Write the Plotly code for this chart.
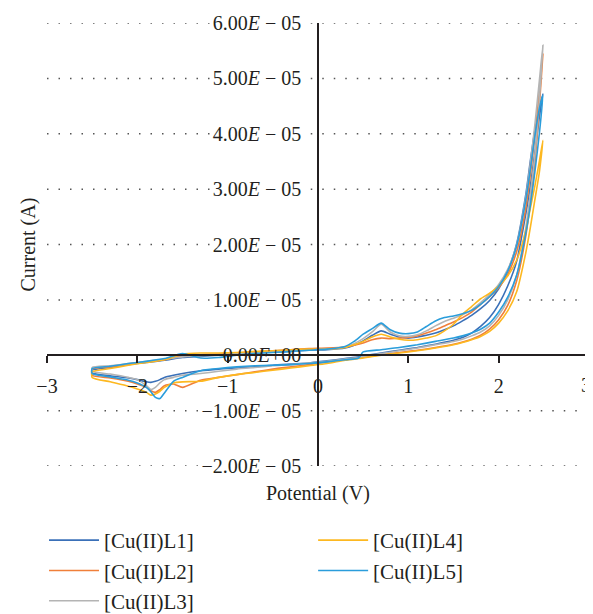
import plotly.graph_objects as go

SCALE = 1e-5  # currents below are given in units of 1e-5 A

names = ["[Cu(II)L1]", "[Cu(II)L2]", "[Cu(II)L3]", "[Cu(II)L4]", "[Cu(II)L5]"]
colors = ["#3a70b8", "#f07f3a", "#b4b4b4", "#fdb820", "#2a9ddb"]

# forward (upper) sweep potentials, V
v_fwd = [-2.5, -2.3, -2.1, -1.9, -1.7, -1.5, -1.3, -1.1, -0.9, -0.7,
         -0.5, -0.3, -0.1, 0.1, 0.3, 0.4, 0.5, 0.6, 0.7, 0.8,
         0.9, 1.0, 1.1, 1.2, 1.3, 1.4, 1.5, 1.6, 1.7, 1.8,
         1.9, 2.0, 2.1, 2.2, 2.3, 2.35, 2.4, 2.45, 2.49]
# reverse (lower) sweep potentials, V
v_rev = [2.45, 2.4, 2.35, 2.3, 2.2, 2.1, 2.0, 1.9, 1.8, 1.7,
         1.6, 1.5, 1.3, 1.1, 0.9, 0.7, 0.5, 0.45, 0.3, 0.1,
         -0.1, -0.3, -0.5, -0.7, -0.9, -1.1, -1.3, -1.5, -1.6, -1.7,
         -1.75, -1.8, -1.85, -1.9, -2.0, -2.1, -2.3, -2.5]

i_fwd_L1 = [-0.27, -0.22, -0.17, -0.13, -0.09, -0.04, -0.02, 0.00, 0.02, 0.04,
            0.06, 0.07, 0.09, 0.10, 0.13, 0.18, 0.26, 0.36, 0.44, 0.38,
            0.33, 0.31, 0.33, 0.36, 0.40, 0.46, 0.53, 0.62, 0.72, 0.84,
            0.99, 1.20, 1.52, 2.02, 2.90, 3.50, 4.05, 4.45, 4.72]
i_rev_L1 = [4.30, 3.65, 3.05, 2.55, 1.70, 1.25, 0.92, 0.68, 0.52, 0.40,
            0.32, 0.27, 0.20, 0.14, 0.09, 0.04, -0.01, -0.03, -0.06, -0.10,
            -0.14, -0.16, -0.18, -0.21, -0.23, -0.25, -0.28, -0.33, -0.36, -0.40,
            -0.44, -0.47, -0.49, -0.48, -0.44, -0.41, -0.37, -0.32]

i_fwd_L2 = [-0.25, -0.21, -0.16, -0.12, -0.08, -0.01, 0.01, 0.02, 0.04, 0.06,
            0.08, 0.10, 0.12, 0.13, 0.15, 0.18, 0.22, 0.28, 0.31, 0.30,
            0.31, 0.32, 0.35, 0.40, 0.46, 0.53, 0.60, 0.68, 0.78, 0.92,
            1.06, 1.22, 1.46, 1.88, 2.65, 3.25, 3.95, 4.75, 5.45]
i_rev_L2 = [4.50, 3.45, 2.75, 2.15, 1.35, 0.90, 0.64, 0.47, 0.36, 0.29,
            0.24, 0.20, 0.14, 0.09, 0.05, 0.01, -0.04, -0.05, -0.08, -0.12,
            -0.17, -0.21, -0.25, -0.30, -0.35, -0.40, -0.45, -0.58, -0.52, -0.55,
            -0.62, -0.67, -0.64, -0.58, -0.52, -0.47, -0.41, -0.36]

i_fwd_L3 = [-0.22, -0.19, -0.15, -0.11, -0.07, -0.03, -0.01, 0.01, 0.03, 0.05,
            0.07, 0.08, 0.10, 0.11, 0.15, 0.21, 0.30, 0.42, 0.56, 0.42,
            0.35, 0.34, 0.37, 0.44, 0.53, 0.61, 0.67, 0.73, 0.82, 0.95,
            1.10, 1.28, 1.55, 2.00, 2.85, 3.45, 4.15, 4.95, 5.60]
i_rev_L3 = [4.60, 3.60, 2.90, 2.30, 1.45, 1.00, 0.72, 0.53, 0.42, 0.35,
            0.29, 0.25, 0.19, 0.13, 0.08, 0.03, -0.02, -0.04, -0.07, -0.11,
            -0.14, -0.17, -0.19, -0.22, -0.25, -0.29, -0.33, -0.36, -0.40, -0.44,
            -0.50, -0.58, -0.62, -0.55, -0.44, -0.40, -0.34, -0.29]

i_fwd_L4 = [-0.30, -0.24, -0.18, -0.13, -0.08, 0.02, 0.04, 0.04, 0.05, 0.07,
            0.08, 0.10, 0.11, 0.11, 0.14, 0.19, 0.25, 0.33, 0.38, 0.33,
            0.29, 0.27, 0.28, 0.31, 0.35, 0.44, 0.56, 0.74, 0.88, 1.02,
            1.12, 1.25, 1.43, 1.72, 2.25, 2.65, 3.05, 3.50, 3.88]
i_rev_L4 = [3.30, 2.80, 2.30, 1.85, 1.15, 0.80, 0.58, 0.43, 0.34, 0.28,
            0.23, 0.19, 0.13, 0.08, 0.04, 0.00, -0.05, -0.06, -0.09, -0.15,
            -0.19, -0.23, -0.27, -0.31, -0.35, -0.40, -0.47, -0.48, -0.50, -0.58,
            -0.65, -0.70, -0.72, -0.67, -0.61, -0.56, -0.48, -0.40]

i_fwd_L5 = [-0.24, -0.20, -0.15, -0.11, -0.06, 0.03, -0.05, -0.04, 0.00, 0.03,
            0.05, 0.07, 0.09, 0.11, 0.16, 0.25, 0.38, 0.48, 0.58, 0.46,
            0.40, 0.39, 0.42, 0.52, 0.62, 0.68, 0.71, 0.75, 0.81, 0.92,
            1.06, 1.24, 1.52, 1.98, 2.80, 3.35, 3.95, 4.45, 4.70]
i_rev_L5 = [4.00, 3.30, 2.70, 2.20, 1.45, 1.05, 0.78, 0.58, 0.47, 0.40,
            0.35, 0.31, 0.25, 0.19, 0.14, 0.10, 0.06, -0.05, -0.08, -0.12,
            -0.15, -0.17, -0.18, -0.19, -0.21, -0.24, -0.28, -0.40, -0.47, -0.68,
            -0.78, -0.76, -0.66, -0.58, -0.50, -0.45, -0.39, -0.33]

fwd = [i_fwd_L1, i_fwd_L2, i_fwd_L3, i_fwd_L4, i_fwd_L5]
rev = [i_rev_L1, i_rev_L2, i_rev_L3, i_rev_L4, i_rev_L5]

x_ticks = [-3, -2, -1, 0, 1, 2, 3]
x_tick_text = ["\u22123", "\u22122", "\u22121", "0", "1", "2", ""]  # last one drawn as annotation
x_last_label = "3"
y_tick_vals = [-2, -1, 0, 1, 2, 3, 4, 5, 6]
y_tick_text = ["\u22122.00<i>E</i> \u2212 05", "\u22121.00<i>E</i> \u2212 05", "0.00<i>E</i>+00",
               "1.00<i>E</i> \u2212 05", "2.00<i>E</i> \u2212 05", "3.00<i>E</i> \u2212 05",
               "4.00<i>E</i> \u2212 05", "5.00<i>E</i> \u2212 05", "6.00<i>E</i> \u2212 05"]

INK = "#231f20"
FONT = "Liberation Serif"
FIG_H = 606

fig = go.Figure()
for k in range(5):
    xs = v_fwd + v_rev + [v_fwd[0]]
    ys = [v * SCALE for v in fwd[k] + rev[k] + [fwd[k][0]]]
    fig.add_trace(go.Scatter(
        x=xs, y=ys, mode="lines", name=names[k],
        line=dict(color=colors[k], width=1.6, shape="spline", smoothing=0.6),
        legend="legend" if k < 3 else "legend2",
        legendgroup=names[k],
        hoverinfo="skip",
    ))

# dotted gridlines, interrupted where the tick labels sit
shapes = []
for v in y_tick_vals:
    if v == 0:
        continue
    gap_left = -1.14 if v > 0 else -1.28
    for x0, x1 in [(-3, gap_left), (-0.08, 3)]:
        shapes.append(dict(type="line", xref="x", yref="y", x0=x0, x1=x1,
                           y0=v * SCALE, y1=v * SCALE, layer="below",
                           line=dict(color="#555555", width=1.5, dash="1.5px,10px")))

leg_y = 1 - 512 / FIG_H

fig.update_layout(
    width=585, height=FIG_H,
    margin=dict(l=39, r=4, t=15, b=FIG_H - 15 - 443, autoexpand=False),
    plot_bgcolor="white", paper_bgcolor="white",
    font=dict(family=FONT, size=20, color=INK),
    showlegend=True,
    xaxis=dict(range=[-3, 3], domain=[0, 1], anchor="free", position=0.25,
               automargin=False,
               showline=True, linecolor=INK, linewidth=1.5,
               ticks="outside", ticklen=7, tickwidth=1.5, tickcolor=INK,
               tickvals=x_ticks, ticktext=x_tick_text, showgrid=False, zeroline=False,
               ticklabelstandoff=6,
               tickfont=dict(family=FONT, size=20, color=INK)),
    yaxis=dict(range=[-2 * SCALE, 6 * SCALE], domain=[0, 1], anchor="free", position=0.5,
               automargin=False,
               showline=True, linecolor=INK, linewidth=1.5,
               ticks="", tickvals=[v * SCALE for v in y_tick_vals], ticktext=y_tick_text,
               showgrid=False, zeroline=False, ticklabelstandoff=12,
               tickfont=dict(family=FONT, size=20, color=INK)),
    legend=dict(x=-0.0055, xref="paper", y=leg_y, yref="container",
                xanchor="left", yanchor="top",
                itemwidth=50, tracegroupgap=0, bgcolor="rgba(0,0,0,0)",
                font=dict(family=FONT, size=21, color=INK)),
    legend2=dict(x=0.491, xref="paper", y=leg_y, yref="container",
                 xanchor="left", yanchor="top",
                 itemwidth=50, tracegroupgap=0, bgcolor="rgba(0,0,0,0)",
                 font=dict(family=FONT, size=21, color=INK)),
    shapes=shapes,
    annotations=[
        dict(text="Current (A)", xref="paper", yref="paper", x=-0.035, y=0.5,
             textangle=-90, showarrow=False, xanchor="center", yanchor="middle",
             font=dict(family=FONT, size=20, color=INK)),
        dict(text="Potential (V)", xref="paper", yref="paper", x=0.5, y=-0.061,
             showarrow=False, xanchor="center", yanchor="middle",
             font=dict(family=FONT, size=20, color=INK)),
        dict(text=x_last_label, xref="paper", yref="paper", x=0.995, y=0.25,
             yshift=-30, showarrow=False, xanchor="center", yanchor="middle",
             font=dict(family=FONT, size=20, color=INK)),
    ],
)

fig.write_html("out.html")
